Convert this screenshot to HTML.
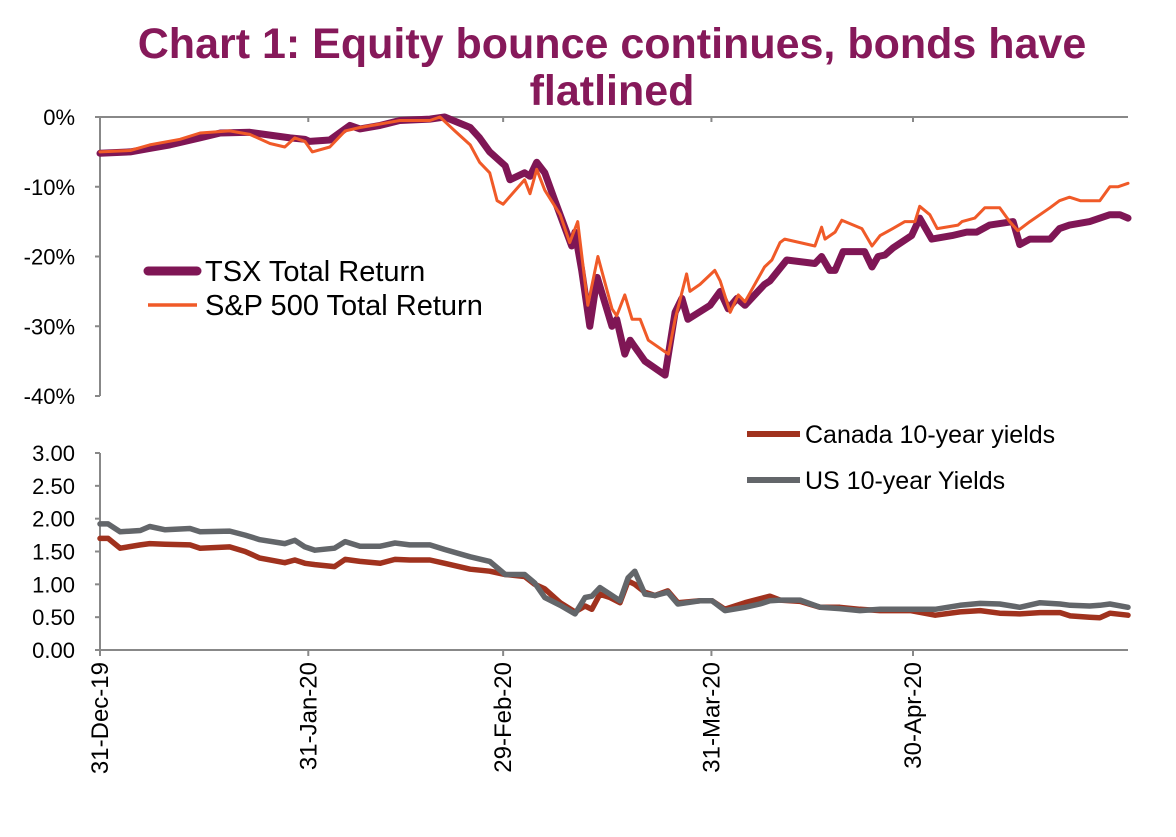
<!DOCTYPE html>
<html><head><meta charset="utf-8"><style>
body{margin:0;background:#fff;width:1176px;height:832px;overflow:hidden;font-family:"Liberation Sans",Arial,sans-serif}
</style></head><body>
<svg id="c" width="1176" height="832" xmlns="http://www.w3.org/2000/svg" font-family="Liberation Sans, Arial, sans-serif">
<text x="612" y="58" text-anchor="middle" font-size="43" font-weight="bold" fill="#86195a">Chart 1: Equity bounce continues, bonds have</text>
<text x="612" y="105" text-anchor="middle" font-size="43" font-weight="bold" fill="#86195a">flatlined</text>
<g id="axes"></g>
<g id="marks"></g>
<g>
<line x1="148" y1="271" x2="197" y2="271" stroke="#7f1655" stroke-width="9" stroke-linecap="round"/>
<text x="205" y="281" font-size="29">TSX Total Return</text>
<line x1="148" y1="305" x2="197" y2="305" stroke="#f05a28" stroke-width="3.5"/>
<text x="205" y="315" font-size="29">S&amp;P 500 Total Return</text>
</g>
<g>
<line x1="747" y1="434" x2="800" y2="434" stroke="#a0321e" stroke-width="6"/>
<text x="805" y="443" font-size="25">Canada 10-year yields</text>
<line x1="747" y1="480" x2="800" y2="480" stroke="#63666a" stroke-width="6"/>
<text x="805" y="489" font-size="25">US 10-year Yields</text>
</g>
</svg>
<script>
const xTickLabels=["31-Dec-19","31-Jan-20","29-Feb-20","31-Mar-20","30-Apr-20"];
const xTickDays=[0,31,60,91,121];
const topTicks=[0,-10,-20,-30,-40];
const botTicks=[3,2.5,2,1.5,1,0.5,0];
const tsxDays=[0,4.5,7.4,10.4,14.9,17.9,22.3,25.3,28.3,30.5,31.2,34.2,37.2,38.7,41.7,44.6,49.1,51.3,55.1,56.5,58,60.3,61,63.2,64,65,66.2,67.7,70.2,70.7,71.7,72.9,74,76.2,76.9,78.1,78.9,81.1,84.1,85.6,86.6,87.5,90.8,92.3,93.5,94.8,96,98.9,99.7,102.2,106.4,107.4,108.6,109.4,110.6,113.8,114.9,115.8,116.8,118,120.8,122,123.8,126.8,129,130.5,132.4,135.9,136.9,138.4,141.4,142.8,144.3,147.3,150.3,151.8,153];
const tsxVals=[-5.2,-5,-4.5,-4,-3,-2.3,-2.2,-2.6,-3,-3.2,-3.5,-3.3,-1.2,-1.7,-1.2,-0.5,-0.3,0,-1.5,-3,-5,-7,-9,-8,-8.5,-6.5,-8,-12,-18.5,-16.5,-22,-30,-23,-30,-29,-34,-32,-35,-37,-28,-26,-29,-27,-25,-27.5,-26,-27,-24,-23.5,-20.5,-21,-20,-22,-22,-19.3,-19.3,-21.5,-20,-19.8,-18.8,-17,-14.5,-17.5,-17,-16.5,-16.5,-15.5,-15,-18.3,-17.5,-17.5,-16,-15.5,-15,-14,-14,-14.5];
const spDays=[0,4.5,7.4,11.9,14.9,19.3,22.3,25.3,27.5,29,30.5,31.6,34.2,36.5,38.7,41.7,44.6,49.1,50.6,52.8,55.1,56.5,58,59.1,60,63.2,64,65,66.2,68.5,69.9,71.1,72.6,74.1,76.2,76.9,78.1,79.2,80.4,81.6,84.6,85.6,87.3,87.8,89.3,91.5,92.3,93.8,95,96,98.9,100,101.2,101.9,104.2,106.4,107.4,107.9,109.4,110.4,113.4,114.9,116.1,118,119.8,121.3,122,123.5,124.6,127.7,128.3,130.2,131.7,133.9,135.4,136.6,138.4,141.4,142.8,144.3,145.9,148.8,150.3,151.5,153];
const spVals=[-5,-4.8,-4,-3.2,-2.3,-2,-2.5,-3.8,-4.3,-3,-3.5,-5,-4.3,-2,-1.5,-1,-0.5,-0.5,0,-2,-4,-6.5,-8,-12,-12.5,-9,-11,-7.5,-10.5,-14,-18,-15,-27,-20,-27.5,-28.5,-25.5,-29,-29,-32,-34,-29,-22.5,-25,-24,-22,-23.5,-28,-25.5,-26.5,-21.5,-20.5,-18,-17.5,-18,-18.5,-15.8,-17.5,-16.5,-14.8,-16,-18.5,-17,-16,-15,-15,-12.8,-14,-16,-15.5,-15,-14.5,-13,-13,-15,-16.3,-15,-13,-12,-11.5,-12,-12,-10,-10,-9.5];
const bondDays=[0,1.2,3,6,7.4,9.7,13.4,14.9,19.3,21.6,23.8,27.5,29,30.5,32,34.9,36.5,38.7,41.7,43.9,46.1,49.1,51.3,55.1,58,60.3,63.2,64.7,66.2,68.5,70.7,72.2,73.2,74.4,75.9,77.4,78.6,79.6,81.1,82.6,84.5,86,89.3,91.1,93,96,98.2,99.7,101.2,104.2,107.2,110.1,113.1,116.1,120.6,124.3,128,131,133.9,136.9,139.9,142.9,144.4,147.3,148.8,150.3,153];
const canVals=[1.7,1.7,1.55,1.6,1.62,1.61,1.6,1.55,1.57,1.5,1.4,1.33,1.37,1.32,1.3,1.27,1.38,1.35,1.32,1.38,1.37,1.37,1.32,1.23,1.2,1.15,1.12,1.0,0.93,0.72,0.58,0.67,0.62,0.85,0.8,0.72,1.05,1.0,0.88,0.83,0.9,0.72,0.75,0.75,0.62,0.72,0.78,0.82,0.76,0.74,0.65,0.65,0.62,0.6,0.6,0.53,0.58,0.6,0.56,0.55,0.57,0.57,0.52,0.5,0.49,0.56,0.53];
const usVals=[1.92,1.92,1.8,1.82,1.88,1.83,1.85,1.8,1.81,1.75,1.68,1.62,1.67,1.57,1.52,1.55,1.65,1.58,1.58,1.63,1.6,1.6,1.53,1.42,1.35,1.15,1.15,1.02,0.8,0.68,0.55,0.8,0.82,0.95,0.85,0.75,1.1,1.2,0.85,0.83,0.88,0.7,0.75,0.75,0.6,0.65,0.7,0.75,0.76,0.76,0.65,0.63,0.6,0.62,0.62,0.62,0.68,0.71,0.7,0.65,0.72,0.7,0.68,0.67,0.68,0.7,0.65];

const NS="http://www.w3.org/2000/svg";
const X0=100,X1=1128,DMAX=153;
const xs=d=>X0+d*(X1-X0)/DMAX;
const yTop=v=>117+(-v)*(396-117)/40;
const yBot=v=>650-v*(650-453)/3;
const axes=document.getElementById('axes'),marks=document.getElementById('marks');
function mk(tag,attrs,parent){const e=document.createElementNS(NS,tag);for(const k in attrs)e.setAttribute(k,attrs[k]);parent.appendChild(e);return e;}
let e=mk('line',{x1:X0,y1:117,x2:X0,y2:396,stroke:'#888','stroke-width':2},axes);


e=mk('line',{x1:X0,y1:117,x2:X1,y2:117,stroke:'#888','stroke-width':2},axes);


topTicks.forEach(v=>{
  mk('line',{x1:X0-5,y1:yTop(v),x2:X0,y2:yTop(v),stroke:'#888','stroke-width':2},axes);
  const t=mk('text',{x:75,y:yTop(v)+8,'text-anchor':'end','font-size':22},axes);
  t.textContent=v+'%';
  
  
});
e=mk('line',{x1:X0,y1:453,x2:X0,y2:650,stroke:'#888','stroke-width':2},axes);


e=mk('line',{x1:X0,y1:650,x2:X1,y2:650,stroke:'#888','stroke-width':2},axes);


botTicks.forEach(v=>{
  mk('line',{x1:X0-5,y1:yBot(v),x2:X0,y2:yBot(v),stroke:'#888','stroke-width':2},axes);
  const t=mk('text',{x:75,y:yBot(v)+8,'text-anchor':'end','font-size':22},axes);
  t.textContent=v.toFixed(2);
  
  
});
xTickDays.forEach((d,i)=>{
  const x=xs(d);
  mk('line',{x1:x,y1:650,x2:x,y2:656,stroke:'#888','stroke-width':2},axes);
  mk('line',{x1:x,y1:117,x2:x,y2:122,stroke:'#888','stroke-width':2},axes);
  const t=mk('text',{x:0,y:0,'text-anchor':'end','font-size':24,transform:`translate(${x+8},662) rotate(-90)`},axes);
  t.textContent=xTickLabels[i];
  
  
});
function line(days,vals,yf,color,w,name){
  const p=mk('polyline',{points:days.map((d,i)=>xs(d).toFixed(1)+','+yf(vals[i]).toFixed(1)).join(' '),fill:'none',stroke:color,'stroke-width':w,'stroke-linejoin':'round','stroke-linecap':'round'},marks);
  
  
}
line(tsxDays,tsxVals,yTop,'#7f1655',7,'tsx-line');
line(spDays,spVals,yTop,'#f05a28',3,'sp500-line');
line(bondDays,canVals,yBot,'#a0321e',5.5,'canada-yield-line');
line(bondDays,usVals,yBot,'#63666a',5.5,'us-yield-line');
</script>
</body></html>
